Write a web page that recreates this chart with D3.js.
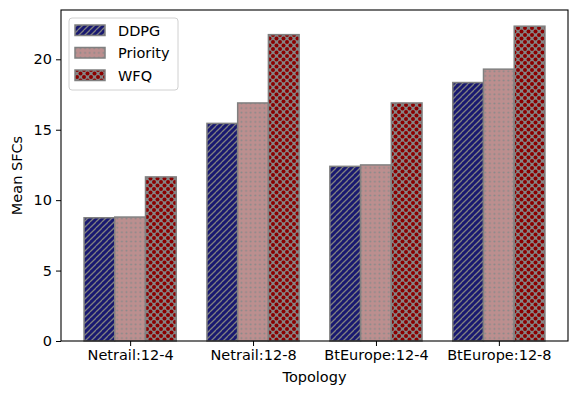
<!DOCTYPE html>
<html><head><meta charset="utf-8">
<script src="https://cdn.jsdelivr.net/npm/d3@7"></script>
<style>body{margin:0;background:#fff;} svg{display:block;font-family:"DejaVu Sans",sans-serif;}</style>
</head><body>
<svg id="chart" width="581" height="398"></svg>
<script>
const categories = ["Netrail:12-4", "Netrail:12-8", "BtEurope:12-4", "BtEurope:12-8"];
const seriesNames = ["DDPG", "Priority", "WFQ"];
const ddpg = [8.75, 15.45, 12.4, 18.35];
const priority = [8.8, 16.9, 12.5, 19.3];
const wfq = [11.65, 21.75, 16.9, 22.35];
const yTicks = [0, 5, 10, 15, 20];
const seriesValues = [ddpg, priority, wfq];

const svg = d3.select("#chart");
const L = 61, R = 568, T = 10, B = 341;
const barW = 0.25;
const x = d3.scaleLinear().domain([-0.5625, 3.5625]).range([L, R]);
const y = d3.scaleLinear().domain([0, 23.5]).range([B, T]);

// patterns
const defs = svg.append("defs");
const s1 = 6;
const p1 = defs.append("pattern").attr("id", "pat0").attr("patternUnits", "userSpaceOnUse").attr("width", s1).attr("height", s1);
p1.append("rect").attr("width", s1).attr("height", s1).attr("fill", "#191970");
[[-s1, s1, 0, 0], [0, s1, s1, 0], [0, 2 * s1, 2 * s1, 0]].forEach(s => {
  p1.append("line").attr("x1", s[0]).attr("y1", s[1]).attr("x2", s[2]).attr("y2", s[3]).attr("stroke", "#808080").attr("stroke-width", 1.25);
});
const p2 = defs.append("pattern").attr("id", "pat1").attr("patternUnits", "userSpaceOnUse").attr("width", 4.6).attr("height", 4.6);
p2.append("rect").attr("width", 4.6).attr("height", 4.6).attr("fill", "#BC8F8F");
p2.append("circle").attr("cx", 2.3).attr("cy", 2.3).attr("r", 1.0).attr("fill", "#8a8a8a");
const p3 = defs.append("pattern").attr("id", "pat2").attr("patternUnits", "userSpaceOnUse").attr("width", 7).attr("height", 7);
p3.append("rect").attr("width", 7).attr("height", 7).attr("fill", "#858585");
[[0, 0], [7, 0], [0, 7], [7, 7], [3.5, 3.5]].forEach(c => {
  p3.append("circle").attr("cx", c[0]).attr("cy", c[1]).attr("r", 2.0).attr("fill", "#8B0000");
});

// bars
seriesValues.forEach((vals, si) => {
  svg.append("g").selectAll("rect").data(vals).join("rect")
    .attr("x", (d, i) => x(i + (si - 1) * barW - barW / 2))
    .attr("width", x(barW) - x(0))
    .attr("y", d => y(d))
    .attr("height", d => y(0) - y(d))
    .attr("fill", `url(#pat${si})`)
    .attr("stroke", "#808080").attr("stroke-width", 1.5);
});

// axes
const xAxis = d3.axisBottom(x).tickValues([0, 1, 2, 3]).tickFormat(i => categories[i]).tickSize(5).tickPadding(4);
const gx = svg.append("g").attr("transform", `translate(0,${B})`).call(xAxis);
const yAxis = d3.axisLeft(y).tickValues(yTicks).tickSize(5).tickPadding(4);
const gy = svg.append("g").attr("transform", `translate(${L},0)`).call(yAxis);
[gx, gy].forEach(g => {
  g.select(".domain").remove();
  g.selectAll("text").attr("font-size", 14.5).attr("font-family", "DejaVu Sans").attr("fill", "#000");
  g.selectAll("line").attr("stroke", "#000").attr("stroke-width", 1);
});
svg.append("rect").attr("x", L).attr("y", T).attr("width", R - L).attr("height", B - T)
  .attr("fill", "none").attr("stroke", "#000").attr("stroke-width", 1.1);

svg.append("text").attr("x", (L + R) / 2).attr("y", 382).attr("text-anchor", "middle")
  .attr("font-size", 14.5).text("Topology");
svg.append("text").attr("transform", `translate(22,${(T + B) / 2}) rotate(-90)`).attr("text-anchor", "middle")
  .attr("font-size", 14.5).text("Mean SFCs");

// legend
const lg = svg.append("g");
lg.append("rect").attr("x", 69).attr("y", 18).attr("width", 109).attr("height", 72).attr("rx", 3)
  .attr("fill", "#fff").attr("fill-opacity", 0.8).attr("stroke", "#d0d0d0").attr("stroke-width", 1);
seriesNames.forEach((n, i) => {
  const yy = 25 + i * 22.5;
  lg.append("rect").attr("x", 75).attr("y", yy).attr("width", 30).attr("height", 10.5)
    .attr("fill", `url(#pat${i})`).attr("stroke", "#808080").attr("stroke-width", 1.5);
  lg.append("text").attr("x", 118).attr("y", yy + 10.5).attr("font-size", 14.5).text(n);
});
</script>
</body></html>
